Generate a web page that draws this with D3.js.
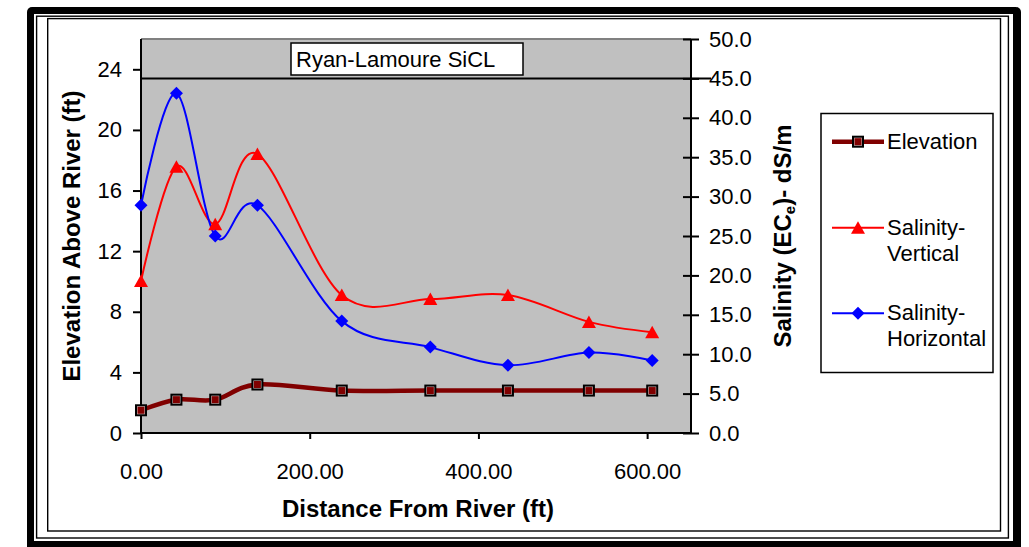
<!DOCTYPE html>
<html>
<head>
<meta charset="utf-8">
<script src="https://cdn.jsdelivr.net/npm/d3@7"></script>
<style>
  html, body { margin: 0; padding: 0; background: #fff; }
  svg { display: block; font-family: Arial, "Liberation Sans", sans-serif; }
</style>
</head>
<body>
<svg id="chart" width="1029" height="547"></svg>
<script>
// Distances from the river (ft) where samples were taken
const distance = [0, 42, 88, 138, 238, 343, 435, 531, 606];
// Ground elevation above river (ft), left axis
const elevation = [1.5, 2.2, 2.2, 3.2, 2.8, 2.8, 2.8, 2.8, 2.8];
// Salinity ECe (dS/m), right axis
const salinityVertical = [19.3, 33.8, 26.5, 35.4, 17.5, 17.0, 17.5, 14.1, 12.8];
const salinityHorizontal = [28.9, 43.1, 25.0, 28.9, 14.2, 10.9, 8.6, 10.2, 9.2];

const xTicks = [0, 200, 400, 600];
const leftTicks = [0, 4, 8, 12, 16, 20, 24];
const rightTicks = [0, 5, 10, 15, 20, 25, 30, 35, 40, 45, 50];
const seriesNames = ["Elevation", "Salinity-Vertical", "Salinity-Horizontal"];
const siteLabel = "Ryan-Lamoure SiCL";
const siteLineLevel = 45;

const svg = d3.select("#chart");

// ---- chart frame ----
svg.append("rect").attr("x", 27).attr("y", 7).attr("width", 994).attr("height", 546)
  .attr("rx", 5).attr("fill", "#000");
svg.append("rect").attr("x", 34).attr("y", 14).attr("width", 979).attr("height", 527)
  .attr("fill", "#fff");
svg.append("rect").attr("x", 36.6).attr("y", 16.2).attr("width", 971.8).attr("height", 521.8)
  .attr("fill", "none").attr("stroke", "#000").attr("stroke-width", 1.4);
svg.append("rect").attr("x", 47.7).attr("y", 18.6).attr("width", 952.8).attr("height", 512.4)
  .attr("fill", "none").attr("stroke", "#000").attr("stroke-width", 1.4);

// ---- plot area ----
const plot = { left: 141, right: 691, top: 39, bottom: 433 };

const x = d3.scaleLinear().domain([0, 652]).range([plot.left, plot.right]);
const yL = d3.scaleLinear().domain([0, 26]).range([plot.bottom, plot.top]);
const yR = d3.scaleLinear().domain([0, 50]).range([plot.bottom, plot.top]);

svg.append("rect")
  .attr("x", plot.left).attr("y", plot.top)
  .attr("width", plot.right - plot.left).attr("height", plot.bottom - plot.top)
  .attr("fill", "#c0c0c0");
svg.append("line")
  .attr("x1", plot.left).attr("x2", plot.right)
  .attr("y1", plot.top).attr("y2", plot.top)
  .attr("stroke", "#808080").attr("stroke-width", 2);

// ---- axes ----
const tickFont = "22px";

const leftAxis = d3.axisLeft(yL).tickValues(leftTicks).tickSize(8).tickPadding(11)
  .tickFormat(d3.format("d"));
const gL = svg.append("g").attr("transform", `translate(${plot.left},0)`).call(leftAxis);

const rightAxis = d3.axisRight(yR).tickValues(rightTicks).tickSize(8).tickPadding(10)
  .tickFormat(d3.format(".1f"));
const gR = svg.append("g").attr("transform", `translate(${plot.right},0)`).call(rightAxis);
gR.selectAll(".tick line").attr("x1", -8);

const bottomAxis = d3.axisBottom(x).tickValues(xTicks).tickSize(6).tickPadding(24)
  .tickFormat(d3.format(".2f"));
const gB = svg.append("g").attr("transform", `translate(0,${plot.bottom})`).call(bottomAxis);

[gL, gR, gB].forEach(g => {
  g.select(".domain").attr("stroke", "#000").attr("stroke-width", 2);
  g.selectAll(".tick line").attr("stroke", "#000").attr("stroke-width", 2);
  g.selectAll(".tick text").attr("fill", "#000").style("font-size", tickFont)
    .style("font-family", "Arial, 'Liberation Sans', sans-serif");
});
gL.select(".domain").attr("d", `M0,${plot.bottom}V${plot.top}`);
gR.select(".domain").attr("d", `M0,${plot.bottom}V${plot.top}`);
gB.select(".domain").attr("d", `M${plot.left},0H${plot.right}`);

// ---- axis titles ----
svg.append("text")
  .attr("transform", `translate(80,${(plot.top + plot.bottom) / 2}) rotate(-90)`)
  .attr("text-anchor", "middle")
  .style("font-size", "24px").style("font-weight", "bold")
  .text("Elevation Above River (ft)");

const rTitle = svg.append("text")
  .attr("transform", `translate(791,${(plot.top + plot.bottom) / 2}) rotate(-90)`)
  .attr("text-anchor", "middle")
  .style("font-size", "24px").style("font-weight", "bold");
rTitle.append("tspan").text("Salinity (EC");
rTitle.append("tspan").attr("dy", 4).style("font-size", "15px").text("e");
rTitle.append("tspan").attr("dy", -4).text(")- dS/m");

svg.append("text")
  .attr("x", (plot.left + plot.right) / 2 + 2).attr("y", 517)
  .attr("text-anchor", "middle")
  .style("font-size", "24px").style("font-weight", "bold")
  .text("Distance From River (ft)");

// ---- site label and reference line ----
svg.append("line")
  .attr("x1", plot.left).attr("x2", plot.right + 20)
  .attr("y1", yR(siteLineLevel)).attr("y2", yR(siteLineLevel))
  .attr("stroke", "#000").attr("stroke-width", 2);
svg.append("rect")
  .attr("x", 291).attr("y", 43).attr("width", 232).attr("height", 32)
  .attr("fill", "#fff").attr("stroke", "#000").attr("stroke-width", 1.5);
svg.append("text")
  .attr("x", 296).attr("y", 67)
  .style("font-size", "22px")
  .text(siteLabel);

// ---- series ----
const curve = d3.curveCardinal.tension(0);

const elevPts = distance.map((d, i) => [x(d), yL(elevation[i])]);
const vertPts = distance.map((d, i) => [x(d), yR(salinityVertical[i])]);
const horzPts = distance.map((d, i) => [x(d), yR(salinityHorizontal[i])]);

const line = d3.line().curve(curve);

svg.append("path").attr("d", line(vertPts))
  .attr("fill", "none").attr("stroke", "#ff0000").attr("stroke-width", 2);
svg.append("path").attr("d", line(horzPts))
  .attr("fill", "none").attr("stroke", "#0000ff").attr("stroke-width", 2);
svg.append("path").attr("d", line(elevPts))
  .attr("fill", "none").attr("stroke", "#800000").attr("stroke-width", 4.5);

// marker drawing helpers
function triangle(g, cx, cy) {
  g.append("path")
    .attr("d", `M${cx},${cy - 6.5}L${cx + 7},${cy + 6}L${cx - 7},${cy + 6}Z`)
    .attr("fill", "#ff0000");
}
function diamond(g, cx, cy) {
  g.append("path")
    .attr("d", `M${cx},${cy - 6.5}L${cx + 6.5},${cy}L${cx},${cy + 6.5}L${cx - 6.5},${cy}Z`)
    .attr("fill", "#0000ff");
}
function square(g, cx, cy) {
  g.append("rect").attr("x", cx - 5).attr("y", cy - 5).attr("width", 10).attr("height", 10)
    .attr("fill", "#d8c8c8").attr("stroke", "#000").attr("stroke-width", 2);
  g.append("rect").attr("x", cx - 3.5).attr("y", cy - 3.5).attr("width", 7).attr("height", 7)
    .attr("fill", "#800000");
}

const markers = svg.append("g");
vertPts.forEach(p => triangle(markers, p[0], p[1]));
horzPts.forEach(p => diamond(markers, p[0], p[1]));
elevPts.forEach(p => square(markers, p[0], p[1]));

// ---- legend ----
const legend = svg.append("g");
legend.append("rect")
  .attr("x", 821).attr("y", 113.5).attr("width", 172).attr("height", 259)
  .attr("fill", "#fff").attr("stroke", "#000").attr("stroke-width", 1.5);

const legendRows = [
  { name: seriesNames[0], lineY: 141.7, color: "#800000", width: 4.5, mark: square, lines: ["Elevation"] },
  { name: seriesNames[1], lineY: 227.7, color: "#ff0000", width: 2, mark: triangle, lines: ["Salinity-", "Vertical"] },
  { name: seriesNames[2], lineY: 313.3, color: "#0000ff", width: 2, mark: diamond, lines: ["Salinity-", "Horizontal"] }
];
legendRows.forEach(r => {
  legend.append("line")
    .attr("x1", 832).attr("x2", 884).attr("y1", r.lineY).attr("y2", r.lineY)
    .attr("stroke", r.color).attr("stroke-width", r.width);
  r.mark(legend, 858, r.lineY);
  const t = legend.append("text").attr("x", 887).attr("y", r.lineY + 7).style("font-size", "22px");
  r.lines.forEach((s, i) => {
    t.append("tspan").attr("x", 887).attr("dy", i === 0 ? 0 : 26).text(s);
  });
});
</script>
</body>
</html>
